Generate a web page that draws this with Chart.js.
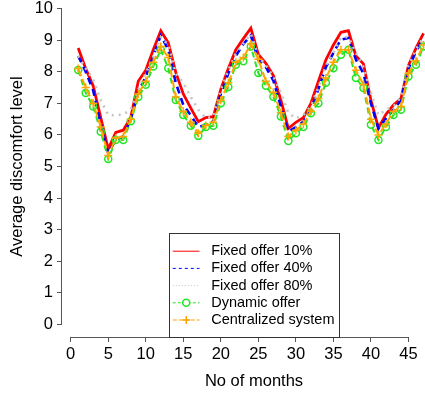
<!DOCTYPE html>
<html><head><meta charset="utf-8">
<script src="https://cdn.jsdelivr.net/npm/chart.js@4/dist/chart.umd.min.js"></script>
<style>
html,body{margin:0;padding:0;background:#fff;overflow:hidden;width:425px;height:394px;}
#wrap{position:absolute;left:0;top:-4px;width:446px;height:398px;}
canvas{display:block;}
</style></head><body>
<div id="wrap"><canvas id="c" width="446" height="398" style="width:446px;height:398px"></canvas></div>
<script>
const months = [1,2,3,4,5,6,7,8,9,10,11,12,13,14,15,16,17,18,19,20,21,22,23,24,25,26,27,28,29,30,31,32,33,34,35,36,37,38,39,40,41,42,43,44,45,46,47];
const fixed10 = [8.75,8.1,7.55,6.55,5.55,6.08,6.15,6.55,7.7,8.05,8.7,9.3,8.92,7.98,7.3,6.85,6.42,6.55,6.58,7.45,8.1,8.7,9.05,9.38,8.55,8.27,7.88,7.1,6.2,6.4,6.55,7.0,7.7,8.38,8.85,9.25,9.3,8.5,8.25,7.1,6.22,6.65,6.95,7.15,8.2,8.75,9.22];
const fixed40 = [8.5,8.0,7.4,6.35,5.42,5.85,5.95,6.5,7.35,7.85,8.5,9.15,8.7,7.65,6.95,6.62,6.25,6.32,6.43,7.3,7.95,8.5,8.88,9.15,8.38,8.15,7.72,6.9,6.1,6.25,6.42,6.8,7.45,8.15,8.6,9.02,9.07,8.38,7.95,7.0,6.2,6.52,6.8,7.1,8.1,8.65,9.05];
const fixed80 = [8.5,8.1,7.75,7.1,6.63,6.62,6.65,6.8,7.43,7.95,8.48,9.1,8.85,7.95,7.65,7.2,6.8,6.53,6.58,7.43,8.05,8.58,8.9,9.2,8.5,8.2,7.85,7.33,6.7,6.52,6.63,6.9,7.5,8.2,8.6,9.08,9.1,8.6,8.15,7.33,6.63,6.8,6.9,7.2,8.2,8.7,9.1];
const dynamicOffer = [8.06,7.33,6.9,6.1,5.24,5.84,5.84,6.43,7.2,7.59,8.17,8.7,8.11,7.11,6.63,6.29,5.97,6.25,6.29,7.0,7.52,8.22,8.33,8.8,7.96,7.56,7.21,6.58,5.81,6.05,6.25,6.69,7.0,7.65,8.11,8.54,8.7,7.8,7.49,6.32,5.84,6.25,6.63,6.8,7.85,8.22,8.8];
const centralized = [8.1,7.5,7.0,6.25,5.35,5.9,5.95,6.5,7.3,7.7,8.3,8.8,8.45,7.2,6.75,6.4,6.05,6.3,6.4,7.1,7.65,8.3,8.45,8.88,8.4,7.7,7.35,6.7,5.95,6.15,6.35,6.75,7.15,7.8,8.3,8.7,8.7,8.05,7.6,6.5,6.0,6.35,6.75,6.9,7.95,8.35,8.85];
const seriesNames = ['Fixed offer 10%','Fixed offer 40%','Fixed offer 80%','Dynamic offer','Centralized system'];
const xTicks = [0,5,10,15,20,25,30,35,40,45];
const yTicks = [0,1,2,3,4,5,6,7,8,9,10];

const FONT = "'Liberation Sans', Arial, sans-serif";
const pts = arr => months.map((m,i)=>({x:m,y:arr[i]}));

const styles = [
  {c:'#ff0000', w:2.8, dash:[], lgDash:[], pt:false, order:5},
  {c:'#0000ff', w:2.6, dash:[7,5], lgDash:[3,3], pt:false, order:4},
  {c:'#c4c4c4', w:2.6, dash:[2,5], lgDash:[1,2], pt:false, order:3},
  {c:'#22e622', w:2, dash:[6,4], lgDash:[3,2], pt:'circle', order:2},
  {c:'#ffa500', w:2, dash:[8,3], lgDash:[4,2], pt:'cross', order:1}
];
const allSeries = [fixed10, fixed40, fixed80, dynamicOffer, centralized];

const datasets = allSeries.map((s,i)=>({
  label: seriesNames[i],
  data: pts(s),
  borderColor: styles[i].c,
  backgroundColor: 'rgba(0,0,0,0)',
  borderWidth: styles[i].w,
  borderDash: styles[i].dash,
  pointStyle: styles[i].pt || 'circle',
  pointRadius: styles[i].pt ? (styles[i].pt==='circle'?3.5:4) : 0,
  pointBorderWidth: 1.5,
  pointBorderColor: styles[i].c,
  pointBackgroundColor: 'rgba(0,0,0,0)',
  tension: 0,
  fill: false,
  order: styles[i].order
}));

const axisLines = {
  id:'axisLines',
  afterDraw(chart){
    const {ctx, chartArea:ca, scales:{x,y}} = chart;
    ctx.save();
    ctx.strokeStyle = '#555'; ctx.lineWidth = 1;
    ctx.beginPath();
    const lx = Math.round(ca.left)-0.5;
    ctx.moveTo(lx, y.getPixelForValue(yTicks[0]));
    ctx.lineTo(lx, y.getPixelForValue(yTicks[yTicks.length-1]));
    const by = Math.round(ca.bottom)+0.5;
    ctx.moveTo(x.getPixelForValue(xTicks[0]), by);
    ctx.lineTo(x.getPixelForValue(xTicks[xTicks.length-1]), by);
    ctx.stroke();
    ctx.restore();
  }
};

const boxLegend = {
  id:'boxLegend',
  afterDraw(chart){
    const {ctx, chartArea:ca} = chart;
    const w = 170, h = 104;
    const left = Math.round((ca.left+ca.right)/2 - w/2)+0.5;
    const top = Math.round(ca.bottom - h)+0.5;
    ctx.save();
    ctx.fillStyle = '#fff';
    ctx.fillRect(left, top, w, h);
    ctx.strokeStyle = '#333'; ctx.lineWidth = 1; ctx.setLineDash([]);
    ctx.strokeRect(left, top, w, h);
    chart.data.datasets.forEach((ds,i)=>{
      const yy = top + 17.7 + i*17.2;
      const st = styles[i];
      ctx.strokeStyle = st.c; ctx.lineWidth = 1;
      ctx.setLineDash(st.lgDash);
      ctx.beginPath(); ctx.moveTo(left+3.3, yy); ctx.lineTo(left+30, yy); ctx.stroke();
      ctx.setLineDash([]);
      const cx = left+16.7;
      if (st.pt === 'circle') {
        ctx.fillStyle = '#fff';
        ctx.beginPath(); ctx.arc(cx, yy, 3.5, 0, Math.PI*2); ctx.fill();
        ctx.lineWidth = 1.5; ctx.stroke();
      } else if (st.pt === 'cross') {
        ctx.lineWidth = 1.5;
        ctx.beginPath(); ctx.moveTo(cx-4, yy); ctx.lineTo(cx+4, yy); ctx.moveTo(cx, yy-4); ctx.lineTo(cx, yy+4); ctx.stroke();
      }
      ctx.fillStyle = '#000';
      ctx.font = '14.5px ' + FONT;
      ctx.textBaseline = 'middle'; ctx.textAlign = 'left';
      ctx.fillText(ds.label, left+41.7, yy);
    });
    ctx.restore();
  }
};

new Chart(document.getElementById('c'), {
  type:'line',
  data:{datasets},
  plugins:[axisLines, boxLegend],
  options:{
    responsive:false, animation:false, devicePixelRatio:1,
    layout:{padding:0, autoPadding:false},
    plugins:{legend:{display:false}, tooltip:{enabled:false}},
    scales:{
      x:{
        type:'linear', min:-1.16, max:50,
        afterBuildTicks(s){ s.ticks = xTicks.map(v=>({value:v})); },
        afterFit(s){ s.height = 57; s.paddingLeft = 0; s.paddingRight = 0; },
        ticks:{color:'#000', font:{family:FONT, size:16.5}, padding:2.4, autoSkip:false, maxRotation:0},
        grid:{display:true, drawOnChartArea:false, drawTicks:true, tickLength:5, color:'#555', lineWidth:1},
        border:{display:false},
        title:{display:true, text:'No of months', color:'#000', font:{family:FONT, size:16.5}, padding:{top:0,bottom:3}}
      },
      y:{
        type:'linear', min:-0.4, max:10.4,
        afterBuildTicks(s){ s.ticks = yTicks.map(v=>({value:v})); },
        afterFit(s){ s.width = 62; s.paddingTop = 0; s.paddingBottom = 0; },
        ticks:{color:'#000', font:{family:FONT, size:16.5}, padding:4},
        grid:{display:true, drawOnChartArea:false, drawTicks:true, tickLength:5, color:'#555', lineWidth:1},
        border:{display:false},
        title:{display:true, text:'Average discomfort level', color:'#000', font:{family:FONT, size:16.5}, padding:{top:7.4,bottom:0}}
      }
    }
  }
});
</script>
</body></html>
